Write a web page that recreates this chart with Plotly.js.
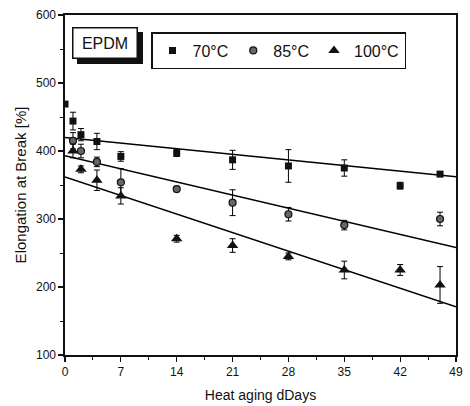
<!DOCTYPE html>
<html>
<head>
<meta charset="utf-8">
<script src="https://cdn.plot.ly/plotly-3.0.1.min.js"></script>
<style>html,body{margin:0;padding:0;background:#fff;}#chart{width:470px;height:406px;}</style>
</head>
<body>
<div id="chart"></div>
<script>
// Data
const days70 = [0, 1, 2, 4, 7, 14, 21, 28, 35, 42, 47];
const elong70 = [469, 444, 424, 414, 392, 397, 387, 378, 375, 349, 366];
const err70 = [0, 13, 9, 12, 7, 5, 14, 24, 12, 5, 3];

const days85 = [1, 2, 4, 7, 14, 21, 28, 35, 47];
const elong85 = [415, 400, 384, 354, 344, 324, 307, 291, 300];
const err85 = [12, 10, 7, 20, 4, 19, 10, 7, 10];

const days100 = [1, 2, 4, 7, 14, 21, 28, 35, 42, 47];
const elong100 = [400, 373, 357, 334, 271, 261, 245, 225, 225, 203];
const err100 = [10, 5, 15, 12, 5, 10, 5, 13, 8, 27];

// Linear fit lines (endpoints)
const fitDays = [0, 49];
const fit70 = [420, 362];
const fit85 = [393, 258];
const fit100 = [362, 171];

const seriesNames = ['70°C', '85°C', '100°C'];
const xTicks = [0, 7, 14, 21, 28, 35, 42, 49];
const yTicks = [100, 200, 300, 400, 500, 600];

const FONT = 'Liberation Sans, Arial, sans-serif';

function errBar(arr) {
  return {type: 'data', array: arr, visible: true, color: '#000', thickness: 1, width: 3};
}

const traces = [
  {x: fitDays, y: fit70, mode: 'lines', line: {color: '#000', width: 1.5}, showlegend: false, hoverinfo: 'skip'},
  {x: fitDays, y: fit85, mode: 'lines', line: {color: '#000', width: 1.5}, showlegend: false, hoverinfo: 'skip'},
  {x: fitDays, y: fit100, mode: 'lines', line: {color: '#000', width: 1.5}, showlegend: false, hoverinfo: 'skip'},
  {x: days70, y: elong70, name: seriesNames[0], mode: 'markers',
   marker: {symbol: 'square', size: 7, color: '#111'}, error_y: errBar(err70)},
  {x: days85, y: elong85, name: seriesNames[1], mode: 'markers',
   marker: {symbol: 'circle', size: 7, color: '#666', line: {color: '#111', width: 1.2}}, error_y: errBar(err85)},
  {x: days100, y: elong100, name: seriesNames[2], mode: 'markers',
   marker: {symbol: 'triangle-up', size: 10, color: '#111'}, error_y: errBar(err100)}
];

const px = v => (v - 65) / 391;
const py = v => (355 - v) / 340;

const layout = {
  width: 470, height: 406,
  margin: {l: 65, r: 14, t: 15, b: 51},
  paper_bgcolor: '#fff', plot_bgcolor: '#fff',
  font: {family: FONT, color: '#111', size: 12},
  showlegend: true,
  legend: {
    orientation: 'h', x: px(151), y: py(32), xanchor: 'left', yanchor: 'top',
    bordercolor: '#111', borderwidth: 1.5, bgcolor: '#fff',
    font: {family: FONT, size: 16, color: '#111'},
    itemwidth: 30, traceorder: 'normal'
  },
  xaxis: {
    range: [0, 49], tickvals: xTicks, ticktext: xTicks.map(String),
    ticks: 'outside', ticklen: 5, tickwidth: 1.2, tickcolor: '#111',
    minor: {dtick: 3.5, ticks: 'outside', ticklen: 3, tickwidth: 1, tickcolor: '#111', showgrid: false},
    showline: true, linecolor: '#111', linewidth: 1.6, mirror: true,
    showgrid: false, zeroline: false,
    tickfont: {family: FONT, size: 12, color: '#111'},
    title: {text: 'Heat aging dDays', font: {family: FONT, size: 14, color: '#111'}, standoff: 12}
  },
  yaxis: {
    range: [100, 600], tickvals: yTicks, ticktext: yTicks.map(String),
    ticks: 'outside', ticklen: 5, tickwidth: 1.2, tickcolor: '#111',
    minor: {dtick: 50, ticks: 'outside', ticklen: 3, tickwidth: 1, tickcolor: '#111', showgrid: false},
    showline: true, linecolor: '#111', linewidth: 1.6, mirror: true,
    showgrid: false, zeroline: false,
    tickfont: {family: FONT, size: 12, color: '#111'},
    title: {text: 'Elongation at Break [%]', font: {family: FONT, size: 15, color: '#111'}, standoff: 6}
  },
  shapes: [
    {type: 'rect', xref: 'paper', yref: 'paper', x0: px(77), x1: px(143), y0: py(64), y1: py(32),
     fillcolor: '#111', line: {width: 0}}
  ],
  annotations: [
    {text: 'EPDM', xref: 'paper', yref: 'paper', x: px(105), y: py(43), xanchor: 'center', yanchor: 'middle',
     showarrow: false, font: {family: FONT, size: 16, color: '#111'},
     bgcolor: '#fff', bordercolor: '#111', borderwidth: 1.5, borderpad: 0, width: 63, height: 29}
  ]
};

Plotly.newPlot('chart', traces, layout, {displayModeBar: false, staticPlot: true});
</script>
</body>
</html>
